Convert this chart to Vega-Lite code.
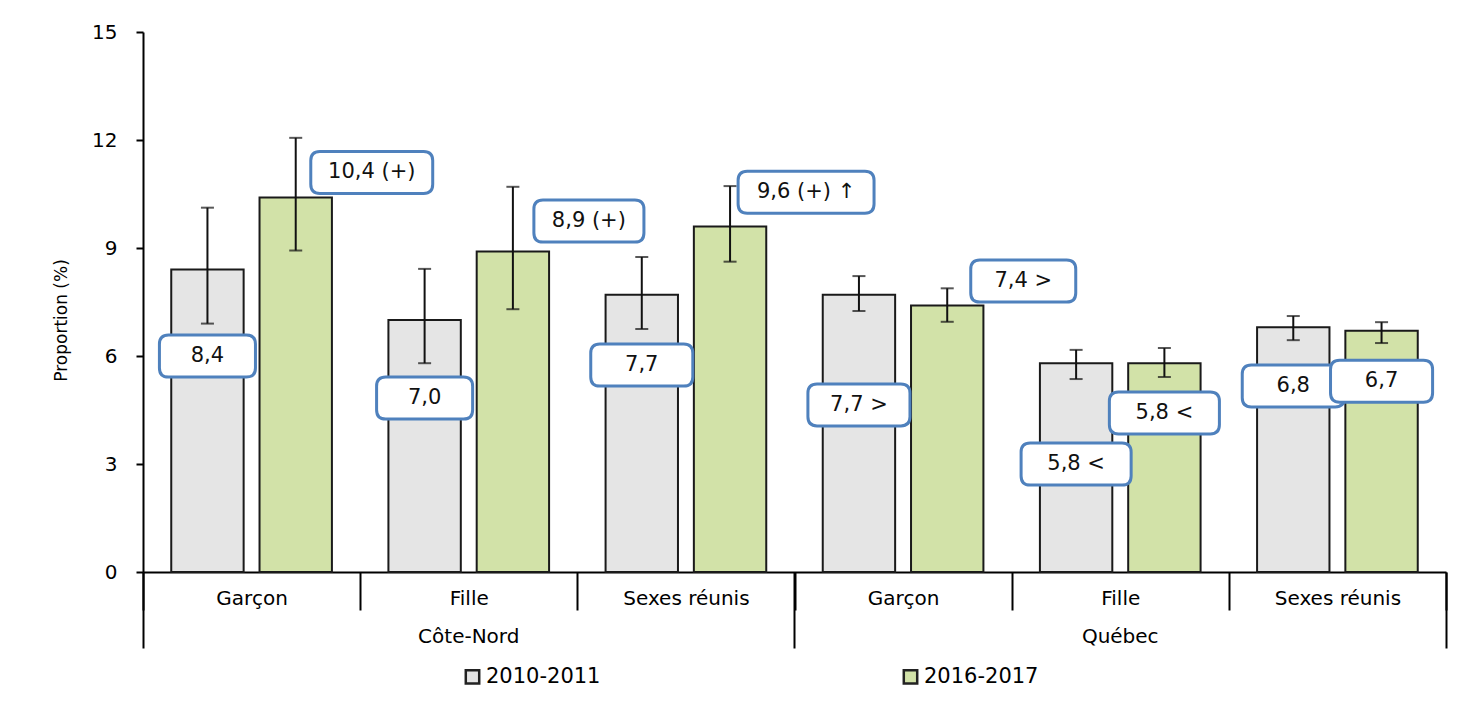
{
  "$schema": "https://vega.github.io/schema/vega-lite/v6.json",
  "width": 1303,
  "height": 540,
  "autosize": {"type": "none"},
  "padding": {"left": 143, "top": 32, "right": 22, "bottom": 137},
  "background": "white",
  "config": {
    "font": "DejaVu Sans",
    "view": {"stroke": null},
    "axis": {"domainColor": "#000", "tickColor": "#000", "labelColor": "#000", "labelFont": "DejaVu Sans", "titleFont": "DejaVu Sans", "grid": false, "titleColor": "#000"},
    "legend": {"labelFont": "DejaVu Sans"}
  },
  "data": {
    "values": [
      {"groupe": "Côte-Nord · Garçon", "periode": "2010-2011", "proportion": 8.4, "ic_bas": 6.9, "ic_haut": 10.12, "etiquette": "8,4", "etiq_y": 6.0, "etiq_cote": "centre"},
      {"groupe": "Côte-Nord · Garçon", "periode": "2016-2017", "proportion": 10.4, "ic_bas": 8.93, "ic_haut": 12.06, "etiquette": "10,4 (+)", "etiq_y": 11.1, "etiq_cote": "droite"},
      {"groupe": "Côte-Nord · Fille", "periode": "2010-2011", "proportion": 7.0, "ic_bas": 5.8, "ic_haut": 8.42, "etiquette": "7,0", "etiq_y": 4.83, "etiq_cote": "centre"},
      {"groupe": "Côte-Nord · Fille", "periode": "2016-2017", "proportion": 8.9, "ic_bas": 7.3, "ic_haut": 10.7, "etiquette": "8,9 (+)", "etiq_y": 9.75, "etiq_cote": "droite"},
      {"groupe": "Côte-Nord · Sexes réunis", "periode": "2010-2011", "proportion": 7.7, "ic_bas": 6.75, "ic_haut": 8.75, "etiquette": "7,7", "etiq_y": 5.75, "etiq_cote": "centre"},
      {"groupe": "Côte-Nord · Sexes réunis", "periode": "2016-2017", "proportion": 9.6, "ic_bas": 8.62, "ic_haut": 10.72, "etiquette": "9,6 (+) ↑", "etiq_y": 10.55, "etiq_cote": "droite"},
      {"groupe": "Québec · Garçon", "periode": "2010-2011", "proportion": 7.7, "ic_bas": 7.25, "ic_haut": 8.22, "etiquette": "7,7 >", "etiq_y": 4.64, "etiq_cote": "centre"},
      {"groupe": "Québec · Garçon", "periode": "2016-2017", "proportion": 7.4, "ic_bas": 6.95, "ic_haut": 7.88, "etiquette": "7,4 >", "etiq_y": 8.08, "etiq_cote": "droite"},
      {"groupe": "Québec · Fille", "periode": "2010-2011", "proportion": 5.8, "ic_bas": 5.36, "ic_haut": 6.17, "etiquette": "5,8 <", "etiq_y": 3.0, "etiq_cote": "centre"},
      {"groupe": "Québec · Fille", "periode": "2016-2017", "proportion": 5.8, "ic_bas": 5.42, "ic_haut": 6.22, "etiquette": "5,8 <", "etiq_y": 4.42, "etiq_cote": "centre"},
      {"groupe": "Québec · Sexes réunis", "periode": "2010-2011", "proportion": 6.8, "ic_bas": 6.44, "ic_haut": 7.11, "etiquette": "6,8", "etiq_y": 5.17, "etiq_cote": "centre"},
      {"groupe": "Québec · Sexes réunis", "periode": "2016-2017", "proportion": 6.7, "ic_bas": 6.36, "ic_haut": 6.94, "etiquette": "6,7", "etiq_y": 5.3, "etiq_cote": "centre"}
    ]
  },
  "encoding": {
    "xOffset": {"field": "periode", "type": "nominal", "scale": {"paddingInner": 0.18, "paddingOuter": 0.32}}
  },
  "resolve": {"axis": {"x": "independent", "y": "independent"}},
  "layer": [
    {
      "mark": {"type": "bar", "stroke": "#1a1a1a", "strokeWidth": 2},
      "encoding": {
        "x": {
          "field": "groupe", "type": "nominal", "sort": null,
          "scale": {"paddingInner": 0, "paddingOuter": 0},
          "axis": {
            "orient": "bottom", "title": null, "labelAngle": 0, "tickBand": "extent",
            "tickSize": 38, "tickWidth": 2, "domainWidth": 2,
            "labelExpr": "split(datum.label, ' · ')[1]",
            "labelFontSize": 20, "labelBaseline": "middle", "labelPadding": -12
          }
        },
        "y": {
          "field": "proportion", "type": "quantitative",
          "scale": {"domain": [0, 15], "nice": false},
          "axis": {
            "orient": "left", "title": "Proportion (%)", "values": [0, 3, 6, 9, 12, 15],
            "tickSize": 7, "tickWidth": 2, "domainWidth": 2,
            "labelFontSize": 20, "labelPadding": 19,
            "titleFontSize": 17, "titleFontWeight": "normal",
            "titlePadding": 21, "titleY": 288
          }
        },
        "color": {
          "field": "periode", "type": "nominal",
          "scale": {"range": ["#e5e5e5", "#d2e2a8"]},
          "legend": {
            "orient": "none", "legendX": 319, "legendY": 634, "direction": "horizontal",
            "title": null, "symbolType": "square", "symbolSize": 180,
            "symbolStrokeColor": "#222", "symbolStrokeWidth": 2.5,
            "labelFontSize": 21, "labelColor": "#000", "labelOffset": 3, "columnPadding": 297
          }
        }
      }
    },
    {
      "mark": {"type": "rule", "color": "#111", "strokeWidth": 2},
      "encoding": {
        "x": {
          "field": "groupe", "type": "nominal", "sort": null,
          "axis": {
            "orient": "bottom", "title": null, "values": ["Côte-Nord · Garçon", "Québec · Garçon"],
            "bandPosition": 0, "tickSize": 76, "tickWidth": 2, "labels": false, "domain": false
          }
        },
        "y": {"field": "ic_bas", "type": "quantitative", "axis": null},
        "y2": {"field": "ic_haut"}
      }
    },
    {
      "mark": {"type": "tick", "color": "#111", "thickness": 2, "size": 13},
      "encoding": {
        "x": {
          "field": "groupe", "type": "nominal", "sort": null,
          "axis": {
            "orient": "bottom", "title": null, "values": ["Québec · Sexes réunis"],
            "bandPosition": 1, "tickSize": 76, "tickWidth": 2, "labels": false, "domain": false
          }
        },
        "y": {"field": "ic_haut", "type": "quantitative", "axis": null}
      }
    },
    {
      "mark": {"type": "tick", "color": "#111", "thickness": 2, "size": 13},
      "encoding": {
        "x": {"field": "groupe", "type": "nominal", "sort": null, "axis": null},
        "y": {"field": "ic_bas", "type": "quantitative", "axis": null}
      }
    },
    {
      "mark": {"type": "point", "filled": true, "fill": "white", "stroke": "#4f81bd", "strokeWidth": 3, "opacity": 1, "size": 19600},
      "encoding": {
        "x": {"field": "groupe", "type": "nominal", "sort": null, "axis": null},
        "y": {"field": "etiq_y", "type": "quantitative", "axis": null},
        "shape": {
          "field": "etiquette", "type": "nominal", "legend": null,
          "scale": {
            "domain": ["8,4", "7,0", "7,7", "7,7 >", "5,8 <", "6,8", "6,7", "10,4 (+)", "8,9 (+)", "9,6 (+) ↑", "7,4 >"],
            "range": [
              "M-0.556,-0.3L0.556,-0.3Q0.686,-0.3 0.686,-0.17L0.686,0.17Q0.686,0.3 0.556,0.3L-0.556,0.3Q-0.686,0.3 -0.686,0.17L-0.686,-0.17Q-0.686,-0.3 -0.556,-0.3Z",
              "M-0.556,-0.3L0.556,-0.3Q0.686,-0.3 0.686,-0.17L0.686,0.17Q0.686,0.3 0.556,0.3L-0.556,0.3Q-0.686,0.3 -0.686,0.17L-0.686,-0.17Q-0.686,-0.3 -0.556,-0.3Z",
              "M-0.599,-0.3L0.599,-0.3Q0.729,-0.3 0.729,-0.17L0.729,0.17Q0.729,0.3 0.599,0.3L-0.599,0.3Q-0.729,0.3 -0.729,0.17L-0.729,-0.17Q-0.729,-0.3 -0.599,-0.3Z",
              "M-0.599,-0.3L0.599,-0.3Q0.729,-0.3 0.729,-0.17L0.729,0.17Q0.729,0.3 0.599,0.3L-0.599,0.3Q-0.729,0.3 -0.729,0.17L-0.729,-0.17Q-0.729,-0.3 -0.599,-0.3Z",
              "M-0.656,-0.3L0.656,-0.3Q0.786,-0.3 0.786,-0.17L0.786,0.17Q0.786,0.3 0.656,0.3L-0.656,0.3Q-0.786,0.3 -0.786,0.17L-0.786,-0.17Q-0.786,-0.3 -0.656,-0.3Z",
              "M-0.599,-0.3L0.599,-0.3Q0.729,-0.3 0.729,-0.17L0.729,0.17Q0.729,0.3 0.599,0.3L-0.599,0.3Q-0.729,0.3 -0.729,0.17L-0.729,-0.17Q-0.729,-0.3 -0.599,-0.3Z",
              "M-0.599,-0.3L0.599,-0.3Q0.729,-0.3 0.729,-0.17L0.729,0.17Q0.729,0.3 0.599,0.3L-0.599,0.3Q-0.729,0.3 -0.729,0.17L-0.729,-0.17Q-0.729,-0.3 -0.599,-0.3Z",
              "M0.345,-0.3L1.827,-0.3Q1.957,-0.3 1.957,-0.17L1.957,0.17Q1.957,0.3 1.827,0.3L0.345,0.3Q0.215,0.3 0.215,0.17L0.215,-0.17Q0.215,-0.3 0.345,-0.3Z",
              "M0.43,-0.3L1.742,-0.3Q1.872,-0.3 1.872,-0.17L1.872,0.17Q1.872,0.3 1.742,0.3L0.43,0.3Q0.3,0.3 0.3,0.17L0.3,-0.17Q0.3,-0.3 0.43,-0.3Z",
              "M0.245,-0.3L1.927,-0.3Q2.057,-0.3 2.057,-0.17L2.057,0.17Q2.057,0.3 1.927,0.3L0.245,0.3Q0.115,0.3 0.115,0.17L0.115,-0.17Q0.115,-0.3 0.245,-0.3Z",
              "M0.466,-0.3L1.706,-0.3Q1.836,-0.3 1.836,-0.17L1.836,0.17Q1.836,0.3 1.706,0.3L0.466,0.3Q0.336,0.3 0.336,0.17L0.336,-0.17Q0.336,-0.3 0.466,-0.3Z"
            ]
          }
        }
      }
    },
    {
      "transform": [{"filter": "datum.etiq_cote === 'centre'"}],
      "mark": {"type": "text", "fontSize": 21, "color": "#111", "baseline": "middle"},
      "encoding": {
        "x": {
          "field": "groupe", "type": "nominal", "sort": null,
          "axis": {
            "orient": "bottom", "title": null, "values": ["Côte-Nord · Fille", "Québec · Fille"],
            "ticks": false, "domain": false, "labelAngle": 0,
            "labelExpr": "split(datum.label, ' · ')[0]",
            "labelFontSize": 20, "labelBaseline": "middle", "labelPadding": 64
          }
        },
        "y": {"field": "etiq_y", "type": "quantitative", "axis": null},
        "text": {"field": "etiquette"}
      }
    },
    {
      "transform": [{"filter": "datum.etiq_cote === 'droite'"}],
      "mark": {"type": "text", "fontSize": 21, "color": "#111", "baseline": "middle", "dx": 76},
      "encoding": {
        "x": {"field": "groupe", "type": "nominal", "sort": null, "axis": null},
        "y": {"field": "etiq_y", "type": "quantitative", "axis": null},
        "text": {"field": "etiquette"}
      }
    }
  ]
}
